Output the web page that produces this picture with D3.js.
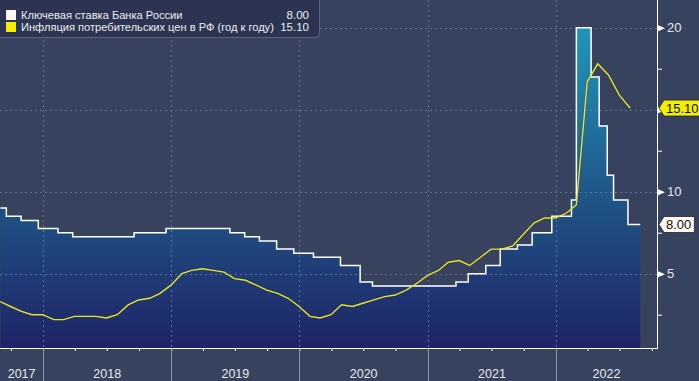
<!DOCTYPE html>
<html><head><meta charset="utf-8">
<script src="https://cdn.jsdelivr.net/npm/d3@7"></script>
<style>html,body{margin:0;padding:0;background:#36425e;overflow:hidden}svg{display:block}</style>
</head><body><svg id="c" width="699" height="381"></svg>
<script>
// ---- data ----
const rateDates = ["2017-09-01","2017-09-18","2017-10-30","2017-12-18","2018-02-12","2018-03-26","2018-09-17","2018-12-17","2019-06-17","2019-07-29","2019-09-09","2019-10-28","2019-12-16","2020-02-10","2020-04-27","2020-06-22","2020-07-27","2021-03-22","2021-04-26","2021-06-15","2021-07-26","2021-09-13","2021-10-25","2021-12-20","2022-02-14","2022-02-28","2022-04-11","2022-05-04","2022-05-27","2022-06-14","2022-07-25","2022-08-29"];
const rateValues = [9.00,8.50,8.25,7.75,7.50,7.25,7.50,7.75,7.50,7.25,7.00,6.50,6.25,6.00,5.50,4.50,4.25,4.50,5.00,5.50,6.50,6.75,7.50,8.50,9.50,20.00,17.00,14.00,11.00,9.50,8.00,8.00];
const cpiMonths = ["2017-08","2017-09","2017-10","2017-11","2017-12",
 "2018-01","2018-02","2018-03","2018-04","2018-05","2018-06","2018-07","2018-08","2018-09","2018-10","2018-11","2018-12",
 "2019-01","2019-02","2019-03","2019-04","2019-05","2019-06","2019-07","2019-08","2019-09","2019-10","2019-11","2019-12",
 "2020-01","2020-02","2020-03","2020-04","2020-05","2020-06","2020-07","2020-08","2020-09","2020-10","2020-11","2020-12",
 "2021-01","2021-02","2021-03","2021-04","2021-05","2021-06","2021-07","2021-08","2021-09","2021-10","2021-11","2021-12",
 "2022-01","2022-02","2022-03","2022-04","2022-05","2022-06","2022-07"];
const cpiValues = [3.3,3.0,2.7,2.5,2.5,
 2.2,2.2,2.4,2.4,2.4,2.3,2.5,3.1,3.4,3.5,3.8,4.3,
 5.0,5.2,5.3,5.2,5.1,4.7,4.6,4.3,4.0,3.8,3.5,3.0,
 2.4,2.3,2.5,3.1,3.0,3.2,3.4,3.6,3.7,4.0,4.4,4.9,
 5.2,5.7,5.8,5.5,6.0,6.5,6.5,6.7,7.4,8.1,8.4,8.4,
 8.7,9.2,16.7,17.8,17.1,15.9,15.1];
const seriesNames = ["Ключевая ставка Банка России","Инфляция потребительских цен в РФ (год к году)"];
const yMajor = [5,10,15,20];
const yMinor = [2.5,7.5,12.5,17.5];
const yearLabels = ["2017","2018","2019","2020","2021","2022"];

// ---- layout ----
const W=699,H=381, plotR=657, plotB=348;
const svg=d3.select("#c");
const parse=d3.timeParse("%Y-%m-%d");
const rate=rateDates.map((d,i)=>({date:parse(d),v:rateValues[i]}));
const cpi=cpiMonths.map((m,i)=>{const [yy,mm]=m.split("-").map(Number);return {date:new Date(yy,mm,0),v:cpiValues[i]};});

const x=d3.scaleTime().domain([new Date(2018,0,1),new Date(2022,0,1)]).range([43.2,556]);
const xDom=[x.invert(0),x.invert(plotR)];
x.domain(xDom).range([0,plotR]);
const y=d3.scaleLinear().domain([0,20]).range([355.7,27.7]);

svg.append("rect").attr("width",W).attr("height",H).attr("fill","#36425e");

const defs=svg.append("defs");
const g=defs.append("linearGradient").attr("id","fillg").attr("gradientUnits","userSpaceOnUse")
  .attr("x1",0).attr("x2",0).attr("y1",y(20)).attr("y2",plotB);
g.append("stop").attr("offset",0).attr("stop-color","#2196b9");
g.append("stop").attr("offset",0.55).attr("stop-color","#1f5386");
g.append("stop").attr("offset",1).attr("stop-color","#1f2466");
defs.append("clipPath").attr("id","clip").append("rect").attr("x",0).attr("y",0).attr("width",plotR).attr("height",plotB);

const plot=svg.append("g").attr("clip-path","url(#clip)");

// area
plot.append("path").datum(rate)
  .attr("d",d3.area().curve(d3.curveStepAfter).x(d=>x(d.date)).y0(plotB).y1(d=>y(d.v)))
  .attr("fill","url(#fillg)");

// grid
plot.selectAll(".hg").data(yMajor).join("line")
  .attr("x1",0).attr("x2",plotR).attr("y1",d=>Math.round(y(d))+0.5).attr("y2",d=>Math.round(y(d))+0.5)
  .attr("stroke","#5f6f90").attr("stroke-dasharray","2,3").attr("stroke-width",1);
const years=d3.timeYear.range(d3.timeYear.ceil(xDom[0]),xDom[1]);
plot.selectAll(".vg").data(years).join("line")
  .attr("x1",d=>Math.round(x(d))+0.5).attr("x2",d=>Math.round(x(d))+0.5).attr("y1",0).attr("y2",plotB)
  .attr("stroke","#5f6f90").attr("stroke-dasharray","2,3").attr("stroke-width",1);

// lines
plot.append("path").datum(cpi)
  .attr("d",d3.line().x(d=>x(d.date)).y(d=>y(d.v)))
  .attr("fill","none").attr("stroke","#3a3a10").attr("stroke-width",2.4).attr("stroke-opacity",0.35);
plot.append("path").datum(rate)
  .attr("d",d3.line().curve(d3.curveStepAfter).x(d=>x(d.date)).y(d=>y(d.v)))
  .attr("fill","none").attr("stroke","#ffffff").attr("stroke-width",1.5);
plot.append("path").datum(cpi)
  .attr("d",d3.line().x(d=>x(d.date)).y(d=>y(d.v)))
  .attr("fill","none").attr("stroke","#e2e23a").attr("stroke-width",1.4);

// right axis
const font="'Liberation Sans', Arial, sans-serif";
const ax=svg.append("g").attr("transform",`translate(${plotR},0)`);
ax.append("line").attr("x1",0.5).attr("x2",0.5).attr("y1",0).attr("y2",plotB+0.5).attr("stroke","#fff").attr("stroke-width",1);
const minorAx=ax.append("g").call(d3.axisRight(y).tickValues(yMinor).tickSize(5).tickFormat(""));
minorAx.select(".domain").remove();
minorAx.selectAll("line").attr("stroke","#fff");
const majAx=ax.append("g").call(d3.axisRight(y).tickValues(yMajor).tickSize(0).tickPadding(10).tickFormat(d=>d===15?"":d));
majAx.select(".domain").remove();
majAx.selectAll(".tick text").attr("fill","#e6e8ee").style("font-family",font).style("font-size","13px");
majAx.selectAll(".tick").append("path").attr("d","M0,-3.5L8,0L0,3.5Z").attr("fill","#fff");

// bottom axis
const bx=svg.append("g").attr("transform",`translate(0,${plotB})`);
bx.append("line").attr("x1",0).attr("x2",plotR+1).attr("y1",0.5).attr("y2",0.5).attr("stroke","#fff");
const qAx=bx.append("g").call(d3.axisBottom(x).ticks(d3.timeMonth.every(3)).tickSize(3).tickFormat(""));
qAx.select(".domain").remove();
qAx.selectAll("line").attr("stroke","#fff");
bx.selectAll(".ysep").data(years).join("line")
  .attr("x1",d=>Math.round(x(d))+0.5).attr("x2",d=>Math.round(x(d))+0.5).attr("y1",0.5).attr("y2",H-plotB)
  .attr("stroke","#8a93a8");
const bounds=[0,...years.map(d=>x(d)),plotR];
bx.selectAll(".yl").data(yearLabels).join("text")
  .attr("x",(d,i)=>(bounds[i]+bounds[i+1])/2).attr("y",30)
  .attr("text-anchor","middle").attr("fill","#e6e8ee").style("font-family",font).style("font-size","12.5px").text(d=>d);

// value labels on right
function tag(v,fill,txt){
  const yy=y(v);
  const tg=svg.append("g");
  const t=tg.append("text").attr("x",666).attr("y",yy+4.5).attr("fill","#111").style("font-family",font).style("font-size","13px").text(txt);
  const w=t.node().getComputedTextLength();
  const x0=659,x1=664,x2=666+w+3,h=8;
  tg.insert("path","text")
    .attr("d",`M${x0},${yy}L${x1},${yy-h}L${x2},${yy-h}L${x2},${yy+h}L${x1},${yy+h}Z`)
    .attr("fill",fill).attr("stroke","#222").attr("stroke-width",0.8);
}
const lastRate=rateValues[rateValues.length-1], lastCpi=cpiValues[cpiValues.length-1];
tag(lastCpi,"#f2ee00",d3.format(".2f")(lastCpi));
tag(lastRate,"#fff8f2",d3.format(".2f")(lastRate));

// legend
const lg=svg.append("g");
lg.append("rect").attr("x",-4).attr("y",-4).attr("width",323.5).attr("height",41.5).attr("rx",4)
  .attr("fill","#2b3451").attr("stroke","#5a6480").attr("stroke-width",1);
const legVals=[d3.format(".2f")(lastRate),d3.format(".2f")(lastCpi)];
const legCols=["#fff4f0","#f5ee00"];
seriesNames.forEach((n,i)=>{
  const cy=15+i*12;
  lg.append("rect").attr("x",6).attr("y",cy-5).attr("width",10).attr("height",10).attr("fill",legCols[i]);
  lg.append("text").attr("x",21).attr("y",cy+4).attr("fill","#eceef2").style("font-family",font).style("font-size","11.1px").text(n);
  lg.append("text").attr("x",309).attr("y",cy+4).attr("text-anchor","end").attr("fill","#eceef2").style("font-family",font).style("font-size","11.5px").text(legVals[i]);
});
</script></body></html>
